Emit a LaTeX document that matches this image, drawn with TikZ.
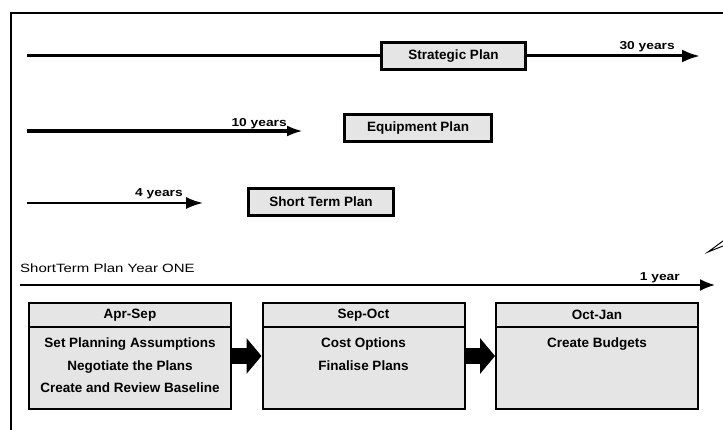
\documentclass[tikz,border=0pt]{standalone}
\usepackage{fontspec}
\setmainfont{Liberation Sans}
\newfontfamily\yearfont[FakeStretch=1.2]{Liberation Sans}
\newfontfamily\rowfont[FakeStretch=1.25]{Liberation Sans}
\usetikzlibrary{arrows.meta,positioning}
\definecolor{boxgray}{gray}{0.9}
\tikzset{%
	planbox/.style   = {draw, line width=3pt, fill=boxgray, minimum height=27pt, inner sep=0pt, font=\fontsize{13.5}{16}\selectfont\bfseries},
	phasebox/.style  = {draw, line width=2pt, fill=boxgray, minimum width=202pt, minimum height=106pt}, % whole step
	phasehead/.style = {draw, line width=2pt, fill=boxgray, minimum width=202pt, minimum height=24pt, inner sep=0pt, font=\fontsize{13.5}{16}\selectfont\bfseries},
	phasetext/.style = {align=center, inner sep=0pt, font=\fontsize{13.5}{22.5}\selectfont\bfseries},
	yearlabel/.style = {inner sep=0pt, font=\yearfont\fontsize{11.5}{13}\selectfont\bfseries},
	rowlabel/.style  = {inner sep=0pt, font=\rowfont\fontsize{12}{14}\selectfont},
	timeline/.style  = {line width=3pt, -{Latex[length=18pt,width=13pt]}},
	bigarrow/.style  = {line width=16pt, -{Triangle[length=15pt,width=35pt]}},
}
\begin{document}
\begin{tikzpicture}[x=1pt, y=-1pt]
	\useasboundingbox (0,0) rectangle (723,430);
	\draw[line width=2pt] (11,430) -- (11,13) -- (723,13);
	% long range plans
	\coordinate (s0) at (27,56);
	\coordinate (s1) at (700,56);
	\draw[timeline] (s0) -- (s1);
	\node[planbox, minimum width=144pt] (strategic) at (453.5,56.5) {Strategic Plan};
	\node[yearlabel, anchor=base east] (y30) at (675,50) {30 years};
	\coordinate (e0) at (27,131);
	\coordinate (e1) at (303,131);
	\draw[timeline, line width=3.5pt, -{Latex[length=16pt,width=11pt]}] (e0) -- (e1);
	\node[planbox, minimum width=147pt] (equipment) at (418,128) {Equipment Plan};
	\node[yearlabel, anchor=base east] (y10) at (287,127) {10 years};
	\coordinate (c0) at (27,203);
	\coordinate (c1) at (203,203);
	\draw[timeline, line width=2pt, -{Latex[length=17pt,width=12pt]}] (c0) -- (c1);
	\node[planbox, minimum width=145pt] (shortterm) at (321,202) {Short Term Plan};
	\node[yearlabel, anchor=base east] (y4) at (183,197) {4 years};
	% year one
	\node[rowlabel, anchor=base west] (yearone) at (20,273) {ShortTerm Plan Year ONE};
	\coordinate (o0) at (20,285);
	\coordinate (o1) at (715,285);
	\draw[timeline, line width=2pt, -{Latex[length=15pt,width=12pt]}] (o0) -- (o1);
	\node[yearlabel, anchor=base east] (y1) at (680,281) {1 year};
	\draw[line width=1pt] (723,241) -- (708,252) -- (723,246);
	% steps
	\node[phasebox] (apr) at (130,356) {};
	\node[phasehead, anchor=north] (aprh) at (apr.north) {Apr-Sep};
	\node[phasetext, below=10pt of aprh] (aprt) {Set Planning Assumptions\\Negotiate the Plans\\Create and Review Baseline};
	\node[phasebox] (sep) at (363.5,356) {};
	\node[phasehead, anchor=north] (seph) at (sep.north) {Sep-Oct};
	\node[phasetext, below=10pt of seph] (sept) {Cost Options\\Finalise Plans};
	\node[phasebox] (oct) at (597,356) {};
	\node[phasehead, anchor=north] (octh) at (oct.north) {Oct-Jan};
	\node[phasetext, below=10pt of octh] (octt) {Create Budgets};
	\draw[bigarrow] (apr) -- (sep);
	\draw[bigarrow] (sep) -- (oct);
\end{tikzpicture}
\end{document}
